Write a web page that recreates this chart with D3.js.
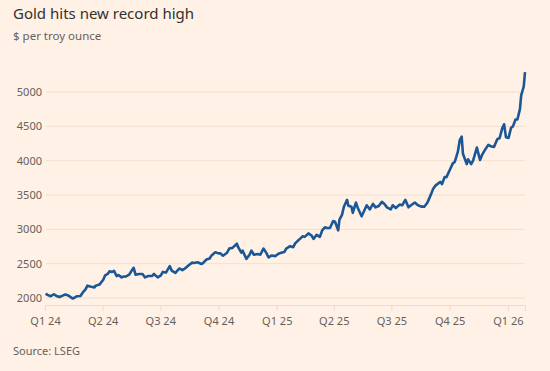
<!DOCTYPE html>
<html>
<head>
<meta charset="utf-8">
<script src="https://cdn.jsdelivr.net/npm/d3@7"></script>
<style>
  body { margin: 0; background: #fff1e5; }
  svg { display: block; }
</style>
</head>
<body>
<svg id="chart" width="550" height="371"></svg>
<script>
// Gold price, $ per troy ounce
var dates = [
  '2024-01-02','2024-01-05','2024-01-10','2024-01-15','2024-01-19','2024-01-24','2024-01-29','2024-02-02','2024-02-07','2024-02-14',
  '2024-02-20','2024-02-26','2024-03-01','2024-03-05','2024-03-08','2024-03-14','2024-03-19','2024-03-21','2024-03-27','2024-04-02',
  '2024-04-05','2024-04-09','2024-04-12','2024-04-16','2024-04-19','2024-04-23','2024-04-26','2024-05-01','2024-05-03','2024-05-08',
  '2024-05-13','2024-05-17','2024-05-20','2024-05-23','2024-05-29','2024-06-03','2024-06-07','2024-06-12','2024-06-18','2024-06-21',
  '2024-06-27','2024-07-02','2024-07-05','2024-07-10','2024-07-16','2024-07-19','2024-07-25','2024-07-31','2024-08-05','2024-08-09',
  '2024-08-14','2024-08-20','2024-08-23','2024-08-29','2024-09-04','2024-09-06','2024-09-12','2024-09-17','2024-09-20','2024-09-26',
  '2024-10-01','2024-10-04','2024-10-08','2024-10-14','2024-10-18','2024-10-23','2024-10-30','2024-11-01','2024-11-06','2024-11-08',
  '2024-11-14','2024-11-19','2024-11-22','2024-11-26','2024-12-02','2024-12-06','2024-12-11','2024-12-16','2024-12-19','2024-12-24',
  '2024-12-30','2025-01-03','2025-01-08','2025-01-13','2025-01-16','2025-01-22','2025-01-27','2025-01-30','2025-02-04','2025-02-07',
  '2025-02-11','2025-02-14','2025-02-20','2025-02-25','2025-02-28','2025-03-05','2025-03-10','2025-03-14','2025-03-18','2025-03-21',
  '2025-03-26','2025-03-31','2025-04-03','2025-04-08','2025-04-10','2025-04-14','2025-04-17','2025-04-22','2025-04-24','2025-04-29',
  '2025-05-01','2025-05-06','2025-05-09','2025-05-15','2025-05-20','2025-05-23','2025-05-28','2025-06-02','2025-06-06','2025-06-11',
  '2025-06-16','2025-06-20','2025-06-24','2025-06-30','2025-07-03','2025-07-08','2025-07-14','2025-07-18','2025-07-23','2025-07-28',
  '2025-08-01','2025-08-07','2025-08-12','2025-08-18','2025-08-22','2025-08-27','2025-09-02','2025-09-05','2025-09-09','2025-09-16',
  '2025-09-19','2025-09-23','2025-09-26','2025-10-01','2025-10-06','2025-10-09','2025-10-14','2025-10-17','2025-10-20','2025-10-22',
  '2025-10-28','2025-10-30','2025-11-04','2025-11-07','2025-11-13','2025-11-18','2025-11-21','2025-11-26','2025-12-01','2025-12-05',
  '2025-12-10','2025-12-15','2025-12-19','2025-12-23','2025-12-26','2025-12-29','2026-01-02','2026-01-06','2026-01-09','2026-01-13',
  '2026-01-16','2026-01-20','2026-01-22','2026-01-26','2026-01-28'
]
var prices = [
  2063,2045,2025,2055,2030,2015,2035,2050,2035,1992,
  2025,2030,2085,2125,2180,2165,2155,2180,2195,2265,
  2330,2350,2390,2380,2395,2320,2335,2300,2310,2315,
  2340,2400,2440,2340,2350,2350,2300,2320,2320,2350,
  2300,2330,2380,2370,2465,2400,2365,2430,2405,2430,
  2470,2515,2510,2520,2495,2505,2560,2575,2620,2665,
  2650,2650,2615,2655,2720,2730,2790,2740,2660,2690,
  2570,2630,2690,2630,2640,2630,2720,2650,2590,2620,
  2610,2640,2660,2670,2720,2755,2740,2795,2840,2865,
  2900,2890,2940,2910,2860,2920,2890,2990,3030,3020,
  3020,3120,3110,2985,3140,3210,3330,3430,3345,3330,
  3240,3390,3310,3190,3290,3350,3290,3370,3320,3340,
  3400,3370,3320,3290,3350,3310,3360,3350,3430,3320,
  3350,3390,3350,3330,3330,3390,3520,3590,3640,3690,
  3660,3760,3760,3860,3960,3980,4130,4300,4350,4100,
  3950,4020,3950,4000,4190,4010,4080,4160,4230,4210,
  4200,4310,4330,4470,4530,4340,4330,4480,4500,4600,
  4600,4750,4950,5080,5290
]
var yTicks = [2000, 2500, 3000, 3500, 4000, 4500, 5000]
var quarterStarts = ['2024-01-01','2024-04-01','2024-07-01','2024-10-01','2025-01-01','2025-04-01','2025-07-01','2025-10-01','2026-01-01']
var quarterLabels = ['Q1 24','Q2 24','Q3 24','Q4 24','Q1 25','Q2 25','Q3 25','Q4 25','Q1 26']

var parse = d3.utcParse('%Y-%m-%d')
var data = dates.map(function(d, i) { return { date: parse(d), value: prices[i] } })

var svg = d3.select('#chart')
var font = '"Noto Sans", sans-serif'

var x = d3.scaleUtc()
  .domain([parse('2024-01-01'), parse('2026-01-28')])
  .range([45, 525])
var y = d3.scaleLinear()
  .domain([2000, 5000])
  .range([298, 92])
var baseY = y(1898)

// Horizontal gridlines + y labels
svg.append('g')
  .selectAll('line')
  .data(yTicks)
  .join('line')
  .attr('x1', 46).attr('x2', 525)
  .attr('y1', function(d) { return y(d) }).attr('y2', function(d) { return y(d) })
  .attr('stroke', '#f2dfcf').attr('stroke-width', 1)

svg.append('g')
  .selectAll('text')
  .data(yTicks)
  .join('text')
  .attr('x', 42)
  .attr('y', function(d) { return y(d) })
  .attr('dy', '0.35em')
  .attr('text-anchor', 'end')
  .attr('font-family', font).attr('font-size', 11)
  .attr('fill', '#66605c')
  .text(function(d) { return d })

// x axis
var xAxis = svg.append('g').attr('transform', 'translate(0,' + baseY + ')')
  .call(d3.axisBottom(x)
    .tickValues(quarterStarts.map(parse))
    .tickFormat(function(d, i) { return quarterLabels[i] })
    .tickSize(6).tickPadding(6))
xAxis.select('.domain').attr('stroke', '#eddccd')
xAxis.selectAll('.tick line').attr('stroke', '#eddccd')
xAxis.selectAll('text')
  .attr('font-family', font).attr('font-size', 11)
  .attr('fill', '#66605c')

// Price line
var line = d3.line()
  .x(function(d) { return x(d.date) })
  .y(function(d) { return y(d.value) })

svg.append('path')
  .datum(data)
  .attr('d', line)
  .attr('fill', 'none')
  .attr('stroke', '#1b5797')
  .attr('stroke-width', 2.6)
  .attr('stroke-linejoin', 'round')

// Titles
svg.append('text')
  .attr('x', 13).attr('y', 19)
  .attr('font-family', font).attr('font-size', 15)
  .attr('fill', '#33302e')
  .text('Gold hits new record high')
svg.append('text')
  .attr('x', 13).attr('y', 40)
  .attr('font-family', font).attr('font-size', 11.5)
  .attr('fill', '#66605c')
  .text('$ per troy ounce')
svg.append('text')
  .attr('x', 13).attr('y', 355)
  .attr('font-family', font).attr('font-size', 11)
  .attr('fill', '#66605c')
  .text('Source: LSEG')
</script>
</body>
</html>
